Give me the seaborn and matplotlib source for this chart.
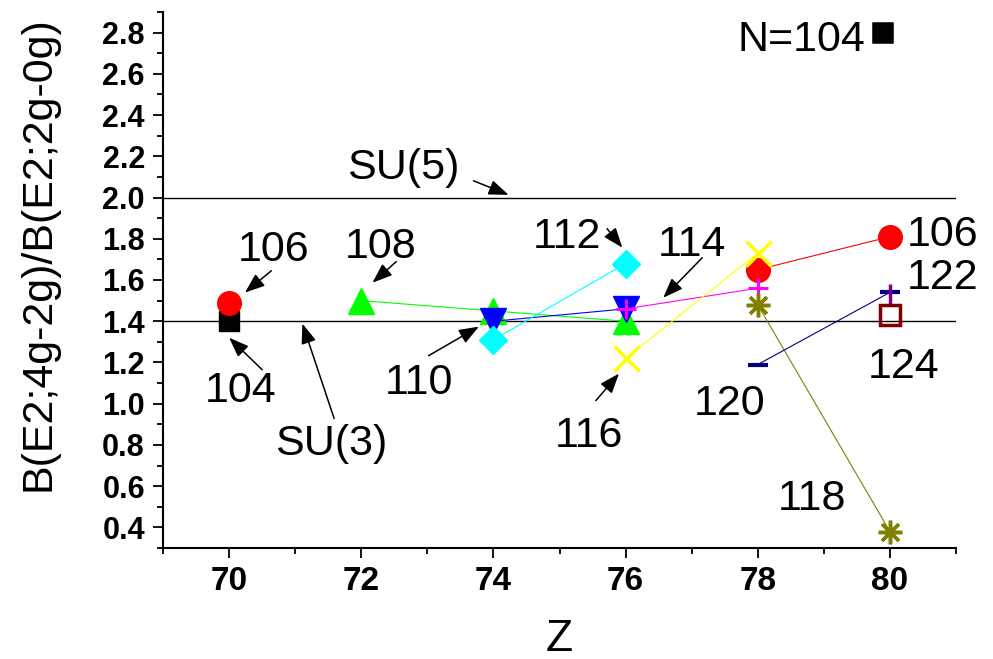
import numpy as np
import matplotlib
matplotlib.use("Agg")
import matplotlib.pyplot as plt
import seaborn as sns

nan = np.nan

# Z values and B(E2) ratios for each neutron number N
z_values = [70, 72, 74, 76, 78, 80]
n104 = [1.40, nan, nan, nan, nan, nan]
n106 = [1.49, nan, nan, nan, 1.65, 1.81]
n108 = [nan, 1.50, 1.45, 1.40, nan, nan]
n110 = [nan, nan, 1.40, 1.46, nan, nan]
n112 = [nan, nan, 1.31, 1.68, nan, nan]
n114 = [nan, nan, nan, 1.46, 1.56, nan]
n116 = [nan, nan, nan, 1.22, 1.73, nan]
n118 = [nan, nan, nan, nan, 1.48, 0.38]
n120 = [nan, nan, nan, nan, 1.19, 1.54]
n122 = [nan, nan, nan, nan, nan, 1.53]
n124 = [nan, nan, nan, nan, nan, 1.43]

su5_level = 2.0
su3_level = 1.4

# (values, color, marker, markersize, facecolor, edgewidth)
series = [
    (n104, "#000000", "s", 15, "#000000", 1.0),
    (n106, "#ff0000", "o", 17, "#ff0000", 1.0),
    (n108, "#00ff00", "^", 19, "#00ff00", 1.0),
    (n110, "#0000ff", "v", 19, "#0000ff", 1.0),
    (n112, "#00ffff", "D", 14, "#00ffff", 1.0),
    (n114, "#ff00ff", "+", 15, "#ff00ff", 2.2),
    (n116, "#ffff00", "x", 18, "#ffff00", 2.5),
    (n118, "#808000", (8, 2, 0), 17, "#808000", 2.5),
    (n120, "#000080", "_", 15, "#000080", 3.0),
    (n122, "#800080", "|", 15, "#800080", 2.5),
    (n124, "#800000", "s", 14, "none", 2.5),
]

# label text, text position, arrow tail, arrow head
labels = [
    ("106", (70.67, 1.694), (70.64, 1.645), (70.24, 1.539)),
    ("104", (70.17, 1.006), (70.50, 1.165), (70.0, 1.320)),
    ("108", (72.29, 1.708), (72.53, 1.689), (72.17, 1.587)),
    ("110", (72.87, 1.049), (73.02, 1.233), (73.78, 1.374)),
    ("112", (75.11, 1.757), (75.72, 1.849), (75.95, 1.757)),
    ("114", (77.01, 1.718), (77.16, 1.708), (76.57, 1.514)),
    ("116", (75.45, 0.788), (75.55, 1.015), (75.90, 1.146)),
    ("120", (77.57, 0.943), None, None),
    ("118", (78.82, 0.482), None, None),
    ("106", (80.79, 1.766), None, None),
    ("122", (80.80, 1.558), None, None),
    ("124", (80.20, 1.127), None, None),
    ("SU(5)", (72.64, 2.091), (73.70, 2.081), (74.23, 2.013)),
    ("SU(3)", (71.55, 0.749), (71.59, 0.928), (71.11, 1.388)),
]

sns.set_style("ticks")
plt.rcParams["font.family"] = ["Liberation Sans", "DejaVu Sans"]
plt.rcParams["text.color"] = "black"
plt.rcParams["axes.labelcolor"] = "black"
plt.rcParams["xtick.color"] = "black"
plt.rcParams["ytick.color"] = "black"

fig, ax = plt.subplots(figsize=(9.93, 6.59), dpi=100)
fig.subplots_adjust(left=163 / 993, right=956 / 993, top=1 - 12 / 659, bottom=1 - 548 / 659)

ax.axhline(su5_level, color="black", lw=1.0, zorder=1)
ax.axhline(su3_level, color="black", lw=1.0, zorder=1)

for vals, color, marker, ms, mfc, mew in series:
    vals = np.asarray(vals, dtype=float)
    ok = ~np.isnan(vals)
    # split into runs of consecutive points so gaps stay unconnected
    runs, cur = [], []
    for i, flag in enumerate(ok):
        if flag:
            cur.append(i)
        elif cur:
            runs.append(cur)
            cur = []
    if cur:
        runs.append(cur)
    for run in runs:
        sns.lineplot(
            x=[z_values[i] for i in run], y=[vals[i] for i in run],
            color=color, linewidth=0.8, marker=marker, markersize=ms,
            markerfacecolor=mfc, markeredgecolor=color, markeredgewidth=mew,
            ax=ax, zorder=3,
        )

for text, pos, tail, head in labels:
    ax.text(pos[0], pos[1], text, fontsize=31, ha="center", va="baseline")
    if tail is not None:
        ax.annotate("", xy=head, xytext=tail,
                    arrowprops=dict(arrowstyle="-|>,head_length=0.45,head_width=0.17",
                                    color="black", lw=1.1,
                                    mutation_scale=27, shrinkA=0, shrinkB=0))

# N=104 key in the corner
ax.text(78.66, 2.711, "N=104", fontsize=31, ha="center", va="baseline")
sns.scatterplot(x=[79.9], y=[2.8], marker="s", s=200, color="black", edgecolor="black", ax=ax)

ax.set_xlim(69, 81)
ax.set_ylim(0.3, 2.9)
ax.set_xticks([70, 72, 74, 76, 78, 80])
ax.set_xticks(np.arange(69, 81.5, 2), minor=True)
ax.set_yticks(np.arange(0.4, 2.81, 0.2))
ax.set_yticks(np.arange(0.3, 2.95, 0.2), minor=True)
ax.set_yticklabels([f"{v:.1f}" for v in np.arange(0.4, 2.81, 0.2)])

for lab in ax.get_xticklabels():
    lab.set_fontweight("bold")
    lab.set_fontsize(24)
for lab in ax.get_yticklabels():
    lab.set_fontweight("bold")
    lab.set_fontsize(22)

ax.tick_params(axis="both", which="major", direction="out", length=7, width=1.3, color="black")
ax.tick_params(axis="both", which="minor", direction="out", length=4, width=1.3, color="black")
ax.tick_params(axis="x", which="major", pad=6)
ax.tick_params(axis="y", which="major", pad=6)

sns.despine(ax=ax)
ax.spines["left"].set_linewidth(1.5)
ax.spines["bottom"].set_linewidth(1.5)
ax.spines["left"].set_color("black")
ax.spines["bottom"].set_color("black")

ax.set_xlabel("Z", fontsize=32)
ax.set_ylabel("B(E2;4g-2g)/B(E2;2g-0g)", fontsize=31)
ax.xaxis.set_label_coords(0.5, -0.17)
ax.xaxis.label.set_verticalalignment("center")
ax.yaxis.set_label_coords(-0.157, 0.55)
ax.yaxis.label.set_verticalalignment("center")

plt.savefig("out.png", dpi=100)
